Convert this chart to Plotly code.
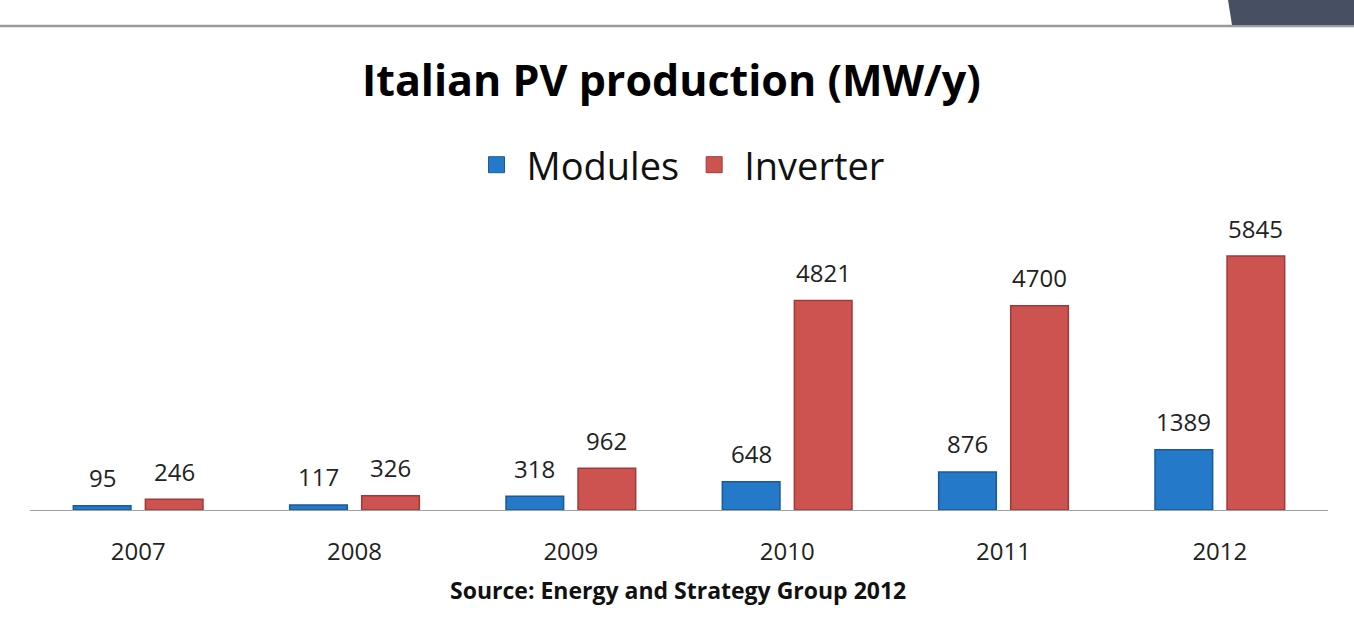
import plotly.graph_objects as go

years = ["2007", "2008", "2009", "2010", "2011", "2012"]
modules = [95, 117, 318, 648, 876, 1389]
inverter = [246, 326, 962, 4821, 4700, 5845]

title_text = "Italian PV production (MW/y)"
source_text = "Source: Energy and Strategy Group 2012"

FONT = "'Open Sans', sans-serif"
BLUE = "#2479c9"
BLUE_LINE = "#1a5a9a"
RED = "#cc5350"
RED_LINE = "#9e3b39"

L, R, T, B = 30, 26, 200, 112
W, H = 1354, 622
pw, ph = W - L - R, H - T - B

def px(x):
    return (x - L) / pw

def py(y):
    return (H - B - y) / ph

fig = go.Figure()
fig.add_trace(go.Bar(name="Modules", x=years, y=modules, showlegend=False,
                     marker=dict(color=BLUE, line=dict(color=BLUE_LINE, width=1.5))))
fig.add_trace(go.Bar(name="Inverter", x=years, y=inverter, showlegend=False,
                     marker=dict(color=RED, line=dict(color=RED_LINE, width=1.5))))
# legend entries with larger square swatches
for nm, c, lc in (("Modules", BLUE, BLUE_LINE), ("Inverter", RED, RED_LINE)):
    fig.add_trace(go.Scatter(name=nm, x=[None], y=[None], mode="markers", hoverinfo="skip",
                             marker=dict(symbol="square", size=26, color=c, line=dict(color=lc, width=1))))

ann = []
for i, yr in enumerate(years):
    for vals, xs in ((modules, -36), (inverter, 36)):
        ann.append(dict(x=i, y=vals[i], text=str(vals[i]), showarrow=False, xref="x", yref="y",
                        xshift=xs, yshift=28, yanchor="middle",
                        font=dict(family=FONT, size=24, color="#222222")))
ann.append(dict(x=px(678), y=py(590), xref="paper", yref="paper", text="<b>" + source_text + "</b>",
                showarrow=False, yanchor="middle", font=dict(family=FONT, size=23, color="#111111")))
ann.append(dict(x=px(671), y=py(80), xref="paper", yref="paper", text="<b>" + title_text + "</b>",
                showarrow=False, yanchor="middle", font=dict(family=FONT, size=43, color="#000000")))

shapes = [
    dict(type="line", xref="paper", yref="paper", x0=px(0), x1=px(W), y0=py(26), y1=py(26),
         line=dict(color="#9a9a9a", width=2.5)),
    dict(type="path", xref="paper", yref="paper",
         path=f"M {px(1228)} {py(0)} L {px(W)} {py(0)} L {px(W)} {py(25)} L {px(1232)} {py(25)} Z",
         fillcolor="#474f63", line=dict(width=0)),
]

fig.update_layout(
    width=W, height=H,
    margin=dict(l=L, r=R, t=T, b=B),
    paper_bgcolor="white", plot_bgcolor="white",
    barmode="group", bargap=0.334, bargroupgap=0.2,
    showlegend=True,
    legend=dict(orientation="h", x=px(678), xanchor="center", y=py(165), yanchor="middle",
                font=dict(family=FONT, size=38, color="#111111"), itemwidth=50,
                itemsizing="trace", traceorder="normal"),
    xaxis=dict(type="category", showgrid=False, showline=True, linecolor="#a0a0a0", linewidth=1.2, ticks="",
               ticklabelstandoff=20,
               tickfont=dict(family=FONT, size=24, color="#222222"), range=[-0.5, 5.5]),
    yaxis=dict(visible=False, range=[0, ph / (254 / 5845)]),
    annotations=ann,
    shapes=shapes,
)

fig.write_html("out.html", config={"displayModeBar": False},
               post_script="document.body.style.margin='0';document.body.style.overflow='hidden';")
